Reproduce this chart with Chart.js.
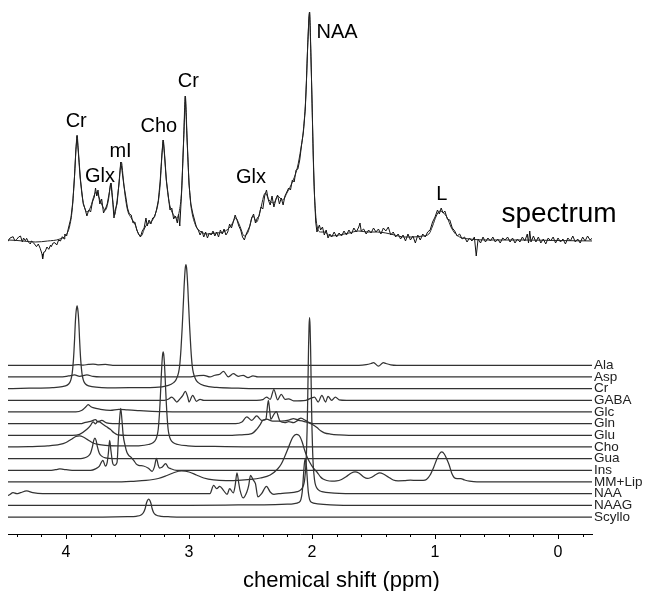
<!DOCTYPE html>
<html>
<head>
<meta charset="utf-8">
<script src="https://cdn.jsdelivr.net/npm/chart.js@4.4.1/dist/chart.umd.min.js"></script>
<style>
  html, body { margin: 0; padding: 0; background: #fff; }
  #wrap { width: 646px; height: 591px; }
</style>
</head>
<body>
<div id="wrap"><canvas id="mrs" width="646" height="591"></canvas></div>
<script>
// x axis: chemical shift in ppm (drawn reversed), tick every 0.2, label on integers
const tickPpm = [4.4, 4.2, 4.0, 3.8, 3.6, 3.4, 3.2, 3.0, 2.8, 2.6, 2.4, 2.2, 2.0, 1.8, 1.6, 1.4, 1.2, 1.0, 0.8, 0.6, 0.4, 0.2, 0.0, -0.2];

// basis spectra, [ppm, intensity above own baseline] (arbitrary units)
const ala = [[4.5,0],[3.95,0],[3.9,0.7],[3.86,0.2],[3.82,0.8],[3.78,1.2],[3.74,0.5],[3.68,0.8],[3.62,0],[1.62,0],[1.56,0.6],[1.52,1.8],[1.50,2.7],[1.46,-0.8],[1.42,2.7],[1.40,1.8],[1.36,0.5],[1.31,0],[-0.3,0]];
const asp = [[4.5,0],[4.05,0],[3.98,1],[3.93,2],[3.89,0.7],[3.83,2],[3.78,0.5],[3.72,0],[3.0,0],[2.94,1],[2.88,1.7],[2.83,0],[2.79,1.7],[2.75,2.7],[2.72,5.5],[2.68,0],[2.64,3.3],[2.60,0.7],[2.56,1.7],[2.52,-0.7],[2.48,1],[2.44,0],[-0.3,0]];
const cr = [[4.5,0],[4.3,0.4],[4.11,1],[4.03,2],[3.99,3.5],[3.97,6],[3.96,9],[3.95,15],[3.94,28],[3.935,38],[3.93,50],[3.925,64],[3.92,74],[3.915,80],[3.91,83],[3.905,80],[3.90,74],[3.895,64],[3.89,50],[3.885,38],[3.88,28],[3.87,15],[3.86,9],[3.85,6],[3.83,3.5],[3.79,2],[3.71,1],[3.6,0.8],[3.4,1],[3.275,1.2],[3.175,3],[3.125,6],[3.105,9],[3.085,16],[3.075,24],[3.065,40],[3.055,62],[3.05,75],[3.045,88],[3.04,102],[3.035,113],[3.03,121],[3.025,124],[3.02,121],[3.015,113],[3.01,102],[3.005,88],[3.0,75],[2.995,62],[2.985,40],[2.975,24],[2.965,16],[2.945,9],[2.925,6],[2.875,3],[2.775,1.2],[2.6,0.5],[2.4,0],[-0.3,0]];
const gaba = [[4.5,0],[3.2,0],[3.17,1],[3.14,3.3],[3.12,1],[3.10,-1.7],[3.07,2],[3.05,5],[3.03,9],[3.01,3],[3.0,-1.7],[2.97,5],[2.94,-1],[2.91,1],[2.88,0],[2.45,0],[2.40,0.7],[2.37,3.3],[2.34,1],[2.31,10.7],[2.28,0.5],[2.25,6],[2.22,1],[2.19,1.5],[2.15,-0.5],[2.05,0],[1.98,3.3],[1.95,-1.7],[1.92,5],[1.89,-1.7],[1.87,4],[1.84,0],[1.81,3.3],[1.78,0.5],[1.72,0],[-0.3,0]];
const glc = [[4.5,0],[3.92,0],[3.87,1.7],[3.84,5],[3.82,7.3],[3.80,5.5],[3.78,4.3],[3.72,2.7],[3.64,1.7],[3.57,2.7],[3.5,2],[3.4,1.3],[3.3,0.7],[3.2,0.3],[2.9,0],[-0.3,0]];
const gln = [[4.5,0],[3.88,0],[3.85,1],[3.80,2.3],[3.76,4],[3.74,1.7],[3.71,3.3],[3.67,0.7],[3.62,0],[2.62,0],[2.57,1.7],[2.53,6.7],[2.49,3.3],[2.45,7.7],[2.41,3.3],[2.37,4.5],[2.32,2.5],[2.25,2.5],[2.19,3.5],[2.15,5],[2.12,4],[2.09,5.5],[2.05,3],[2.02,1],[1.99,0],[-0.3,0]];
const glu = [[4.5,0],[3.95,0],[3.89,1],[3.83,6],[3.80,10],[3.78,13.5],[3.76,11.5],[3.74,14.3],[3.70,11],[3.67,8.5],[3.64,6],[3.61,2.5],[3.58,0.5],[3.5,0],[2.65,0],[2.57,0.5],[2.49,1.7],[2.45,6],[2.42,11],[2.40,15],[2.375,16],[2.365,26],[2.355,35],[2.345,26],[2.335,16],[2.31,21],[2.29,23.7],[2.27,17],[2.26,14],[2.22,12.7],[2.19,13.7],[2.15,12.7],[2.11,15],[2.07,14],[2.03,12.7],[2.0,11],[1.96,7.7],[1.93,4.5],[1.90,2.5],[1.85,1.2],[1.78,0.4],[1.7,0],[-0.3,0]];
const cho = [[4.5,0],[4.3,0.3],[4.15,1],[4.05,2.5],[4.0,4.5],[3.96,7.5],[3.92,10.5],[3.89,11],[3.86,10],[3.82,7],[3.78,4],[3.74,2.5],[3.68,1.5],[3.55,1],[3.45,1.1],[3.41,1.2],[3.33,2.5],[3.29,4.5],[3.27,7.5],[3.26,11],[3.25,18],[3.24,34],[3.235,45],[3.23,58],[3.225,72],[3.22,84],[3.215,92],[3.21,95],[3.205,92],[3.20,84],[3.195,72],[3.19,58],[3.185,45],[3.18,34],[3.17,18],[3.16,11],[3.15,7.5],[3.13,4.5],[3.09,2.5],[3.01,1.2],[2.8,0.5],[2.5,0],[-0.3,0]];
const gua = [[4.5,0],[3.88,0],[3.85,0.7],[3.82,2.5],[3.80,5.7],[3.785,12],[3.775,18],[3.765,20.5],[3.755,18],[3.745,12],[3.73,5.7],[3.71,2.5],[3.68,0.7],[3.62,0],[-0.3,0]];
const ins = [[4.5,0],[4.12,0],[4.07,1],[4.05,1.5],[4.02,1],[3.95,0],[3.80,0],[3.76,1.5],[3.73,4],[3.70,10],[3.68,4.3],[3.665,8],[3.655,18],[3.645,30],[3.635,20],[3.62,7],[3.607,5],[3.585,8],[3.575,30],[3.565,50],[3.555,62],[3.545,50],[3.535,35],[3.52,25],[3.505,18],[3.49,15],[3.47,13],[3.45,10],[3.43,6.5],[3.41,5],[3.37,4.3],[3.33,2],[3.30,-1],[3.28,4],[3.265,12],[3.25,5],[3.24,2.3],[3.22,3],[3.19,6.7],[3.17,3],[3.15,1.7],[3.1,0],[-0.3,0]];
const mmLip = [[4.5,0],[3.6,0],[3.45,0.7],[3.35,1.5],[3.25,3.5],[3.18,6.5],[3.12,9.5],[3.06,11],[3.0,10],[2.94,7],[2.88,4],[2.8,2],[2.7,1.3],[2.6,1.5],[2.5,2.5],[2.42,4],[2.34,7],[2.28,13],[2.25,18],[2.22,26],[2.19,35],[2.16,44],[2.14,47],[2.125,47.7],[2.11,47],[2.10,45.7],[2.08,40],[2.06,31.7],[2.04,25],[2.02,20],[1.99,14],[1.96,10],[1.93,5],[1.91,3],[1.88,1.5],[1.84,0.8],[1.80,1],[1.76,2.5],[1.72,5.5],[1.68,9],[1.65,10],[1.62,9],[1.58,5],[1.55,3.5],[1.52,4.5],[1.48,7.5],[1.45,9],[1.42,8],[1.38,5],[1.34,2],[1.30,1.2],[1.25,1.3],[1.20,1.8],[1.15,1.5],[1.10,1.6],[1.07,2.5],[1.04,7],[1.01,15],[0.985,23],[0.965,28],[0.945,30],[0.925,28],[0.905,23],[0.885,17],[0.865,9],[0.845,4.5],[0.82,3.3],[0.79,3.3],[0.76,2],[0.72,0.8],[0.66,0],[-0.3,0]];
const naa = [[4.5,-1.5],[4.47,-1.7],[4.43,1],[4.40,0],[4.37,1],[4.32,2.7],[4.27,1],[4.19,0],[2.83,0],[2.80,8.3],[2.775,5],[2.75,7.3],[2.72,3.3],[2.69,-0.7],[2.67,5],[2.64,0.7],[2.625,8],[2.61,20.7],[2.595,10],[2.585,3.3],[2.56,-4.3],[2.53,1.7],[2.515,8],[2.50,18.3],[2.48,14],[2.46,10],[2.44,-3.3],[2.41,0],[2.37,7.3],[2.34,1.7],[2.31,-0.7],[2.27,0],[2.22,0.6],[2.12,2],[2.09,4],[2.07,8],[2.06,14],[2.05,28],[2.045,42],[2.04,64],[2.036,88],[2.032,118],[2.028,148],[2.024,168],[2.02,176],[2.016,168],[2.012,148],[2.008,118],[2.004,88],[2.0,64],[1.995,42],[1.99,28],[1.98,14],[1.97,8],[1.95,4],[1.92,2],[1.82,0.6],[1.6,0],[-0.3,0]];
const naag = [[4.5,0],[3.0,0],[2.6,0.4],[2.3,0.8],[2.2,1.2],[2.155,1.5],[2.105,3],[2.09,6],[2.08,13],[2.075,20],[2.07,29],[2.065,38],[2.06,44],[2.055,47],[2.05,44],[2.045,38],[2.04,29],[2.035,20],[2.03,13],[2.02,6],[2.005,3],[1.955,1.5],[1.85,0.5],[1.6,0],[-0.3,0]];
const scyllo = [[4.5,0],[3.7,0],[3.5,0.3],[3.43,0.7],[3.39,2],[3.37,4.5],[3.355,9],[3.348,13],[3.338,16.5],[3.328,18],[3.318,16.5],[3.308,13],[3.301,9],[3.288,4.5],[3.268,2],[3.228,0.7],[3.15,0.2],[3.05,0],[-0.3,0]];

const traceNames = ['Ala', 'Asp', 'Cr', 'GABA', 'Glc', 'Gln', 'Glu', 'Cho', 'Gua', 'Ins', 'MM+Lip', 'NAA', 'NAAG', 'Scyllo'];
const traceValues = [ala, asp, cr, gaba, glc, gln, glu, cho, gua, ins, mmLip, naa, naag, scyllo];

// measured spectrum (noisy) and its fit, [ppm, intensity above spectrum baseline]
const specFit = [[4.5,0],[4.47,0],[4.35,-1],[4.25,-2],[4.15,-1],[4.05,1],[4.0,5],[3.97,14],[3.95,30],[3.935,55],[3.92,88],[3.91,105],[3.90,90],[3.885,65],[3.87,45],[3.85,33],[3.83,28],[3.80,33],[3.77,45],[3.755,48],[3.73,42],[3.70,33],[3.68,30],[3.655,40],[3.635,57],[3.62,40],[3.605,25],[3.59,35],[3.57,55],[3.55,78],[3.535,62],[3.52,45],[3.50,30],[3.47,22],[3.44,16],[3.41,6],[3.39,4],[3.36,12],[3.34,16],[3.31,18],[3.28,24],[3.25,38],[3.235,55],[3.22,85],[3.21,100],[3.20,88],[3.185,62],[3.17,44],[3.15,32],[3.12,24],[3.10,22],[3.08,28],[3.06,50],[3.045,95],[3.03,144],[3.015,100],[3.0,58],[2.985,35],[2.97,24],[2.94,13],[2.90,8],[2.85,6],[2.78,7],[2.72,8],[2.66,14],[2.62,22],[2.59,15],[2.55,4],[2.52,8],[2.48,24],[2.45,18],[2.42,30],[2.38,47],[2.35,40],[2.31,37],[2.28,44],[2.24,40],[2.20,48],[2.16,58],[2.12,72],[2.09,92],[2.07,110],[2.05,145],[2.035,195],[2.02,228],[2.008,180],[1.995,110],[1.985,60],[1.97,25],[1.955,12],[1.93,8],[1.90,8],[1.85,4],[1.78,5],[1.70,7],[1.62,9],[1.55,8],[1.47,8],[1.40,7],[1.33,5],[1.25,3],[1.18,3],[1.10,4],[1.05,6],[1.02,14],[0.99,24],[0.96,29],[0.93,27],[0.90,22],[0.87,13],[0.84,7],[0.80,3],[0.72,1],[0.55,0],[0.3,0],[0.0,-0.5],[-0.3,-1]];
const specData = [[4.475,-1.7],[4.455,2],[4.43,3.3],[4.415,-1],[4.40,0.7],[4.385,3],[4.37,4],[4.355,-2],[4.345,2],[4.33,-0.7],[4.32,1.7],[4.305,-2],[4.29,-4],[4.28,-1],[4.265,-2.7],[4.25,-5],[4.24,-6.7],[4.225,-4],[4.21,-8.3],[4.195,-14],[4.19,-19],[4.18,-12],[4.17,-11.7],[4.155,-7],[4.14,-9.3],[4.125,-5],[4.12,-6.7],[4.105,-3],[4.09,-2.7],[4.075,-5],[4.06,0],[4.045,-1],[4.03,3.3],[4.015,1],[4.01,6],[3.995,4],[3.98,12],
  [3.96,22],[3.945,38],[3.93,65],[3.92,90],[3.91,104],[3.90,88],[3.885,62],[3.87,47],[3.86,36],[3.845,31],[3.83,24],[3.815,30],[3.80,28],[3.785,38],[3.77,43],[3.76,52],[3.75,44],[3.74,50],[3.725,36],[3.71,41],[3.695,27],[3.68,31],[3.665,36],[3.65,46],[3.635,57],[3.62,38],[3.61,22],[3.60,30],[3.585,36],[3.57,56],[3.555,78],[3.545,70],[3.53,55],[3.515,44],[3.50,32],[3.485,26],[3.47,25],[3.455,17],[3.44,18],[3.425,10],[3.41,6],[3.395,3],[3.38,9],[3.365,12],[3.35,22],[3.34,14],[3.325,20],[3.31,16],[3.295,22],[3.28,23],[3.265,30],[3.25,39],[3.235,58],[3.22,86],[3.21,100],[3.20,86],[3.185,60],[3.17,46],[3.155,30],[3.14,32],[3.125,21],[3.11,24],[3.095,17],[3.085,26],[3.075,14],[3.06,48],[3.045,96],[3.03,144],[3.015,98],[3.0,56],[2.985,36],[2.97,27],[2.955,20],[2.94,13],[2.925,10],[2.91,5],[2.895,9],[2.88,3],[2.865,8],[2.85,2],[2.835,7],[2.82,5],[2.805,9],[2.79,4],[2.775,8],[2.76,3],[2.745,10],[2.73,6],[2.715,11],[2.70,5],[2.685,8],[2.67,16],[2.655,12],[2.64,18],[2.625,25],[2.61,20],[2.595,14],[2.58,10],[2.565,3],[2.55,0],[2.535,6],[2.52,10],[2.505,14],[2.49,22],[2.475,26],[2.46,17],[2.445,22],[2.43,24],[2.415,33],[2.40,31],[2.385,44],[2.37,50],[2.355,40],[2.34,35],[2.325,44],[2.31,33],[2.295,40],[2.28,45],[2.265,36],[2.25,42],[2.235,35],[2.22,44],[2.205,48],[2.19,52],[2.175,50],[2.16,60],[2.145,58],[2.13,70],[2.115,71],[2.10,80],[2.085,95],[2.07,108],[2.055,130],[2.045,160],[2.035,195],[2.025,222],[2.02,228],[2.01,190],[2.0,140],[1.99,85],[1.98,45],[1.97,18],[1.96,8],[1.95,12],[1.94,15],[1.93,10],[1.915,13],[1.90,5],[1.885,10],[1.87,2],[1.855,6],[1.84,3],
  [1.82,8],[1.80,3],[1.78,7],[1.76,4],[1.74,9],[1.72,5],[1.70,10],[1.68,6],[1.66,12],[1.64,8],[1.62,13],[1.61,17],[1.60,9],[1.58,11],[1.56,6],[1.54,10],[1.52,7],[1.50,12],[1.48,8],[1.46,11],[1.44,6],[1.42,12],[1.40,9],[1.38,13],[1.36,5],[1.34,8],[1.32,3],[1.30,6],[1.28,1],[1.26,5],[1.24,-1],[1.22,6],[1.20,0],[1.18,4],[1.16,-3],[1.14,5],[1.12,0],[1.10,6],[1.08,3],[1.06,8],[1.04,10],[1.02,18],[1.00,23],[0.98,30],[0.965,26],[0.95,32],[0.935,27],[0.92,29],[0.90,21],[0.88,20],[0.86,12],[0.84,9],[0.82,4],[0.80,6],[0.78,1],[0.76,3],[0.74,-2],[0.72,2],[0.70,-1],[0.68,3],[0.665,-16],[0.65,1],[0.63,-3],[0.61,3],[0.59,-2],[0.57,2],[0.55,-1],[0.53,3],[0.51,-2],[0.49,1],[0.47,-3],[0.45,2],[0.43,0],[0.41,3],[0.39,-2],[0.37,2],[0.35,-3],[0.33,1],[0.31,-2],[0.29,3],[0.27,-1],[0.25,6],[0.24,-3],[0.23,9],[0.22,-2],[0.20,4],[0.18,-2],[0.16,3],[0.14,-3],[0.12,1],[0.10,-4],[0.08,2],[0.06,-1],[0.04,3],[0.02,-3],[0.00,2],[-0.02,-2],[-0.04,1],[-0.06,-4],[-0.08,2],[-0.10,-1],[-0.12,4],[-0.14,-2],[-0.16,1],[-0.18,-3],[-0.20,3],[-0.22,-1],[-0.24,4],[-0.26,0],[-0.28,2]];

// peak annotations on the spectrum: [text, ppm, intensity of text baseline]
const peakLabels = [['Cr', 3.917, 407], ['Glx', 3.724, 352], ['mI', 3.557, 377], ['Cho', 3.245, 402], ['Cr', 3.005, 447], ['Glx', 2.497, 351], ['NAA', 1.797, 496], ['L', 0.945, 334]];

const X_MIN = -0.276, X_MAX = 4.4715;
const SPEC_BASE = 294;      // vertical offset of the spectrum
const ROW_GAP = 11.67;      // offset between stacked basis spectra
const LAST_ROW = 17;        // offset of the lowest basis spectrum

function rowBase(i) {
    return LAST_ROW + (traceNames.length - 1 - i) * ROW_GAP;
}

function shifted(points, base) {
    return points.map(p => ({ x: p[0], y: base + p[1] }));
}

const datasets = traceValues.map((pts, i) => ({
    label: traceNames[i],
    data: shifted(pts, rowBase(i)),
    borderColor: '#333',
    borderWidth: 1.25,
    cubicInterpolationMode: 'monotone'
}));
datasets.push({ label: 'fit', data: shifted(specFit, SPEC_BASE), borderColor: '#222', borderWidth: 1, cubicInterpolationMode: 'monotone' });
datasets.push({ label: 'spectrum', data: shifted(specData, SPEC_BASE), borderColor: '#111', borderWidth: 1, tension: 0 });

const isMajor = v => Math.abs(v - Math.round(v)) < 1e-6;

const annotations = {
    id: 'annotations',
    afterDraw(chart) {
        const { ctx, chartArea, scales } = chart;
        const xs = scales.x, ys = scales.y;
        ctx.save();
        // tick marks, longer on whole ppm
        ctx.strokeStyle = '#000';
        ctx.lineWidth = 1;
        ctx.beginPath();
        xs.ticks.forEach(t => {
            const px = Math.round(xs.getPixelForValue(t.value)) + 0.5;
            ctx.moveTo(px, chartArea.bottom);
            ctx.lineTo(px, chartArea.bottom + (isMajor(t.value) ? 5 : 3));
        });
        ctx.stroke();

        ctx.fillStyle = '#000';
        ctx.textAlign = 'center';
        ctx.textBaseline = 'alphabetic';
        ctx.font = '20px "Liberation Sans", Arial, sans-serif';
        peakLabels.forEach(([txt, ppm, val]) => {
            ctx.fillText(txt, xs.getPixelForValue(ppm), ys.getPixelForValue(val));
        });
        ctx.font = '28px "Liberation Sans", Arial, sans-serif';
        ctx.fillText('spectrum', xs.getPixelForValue(-0.008), ys.getPixelForValue(312));

        ctx.fillStyle = '#222';
        ctx.textAlign = 'left';
        ctx.textBaseline = 'middle';
        ctx.font = '13.5px "Liberation Sans", Arial, sans-serif';
        traceNames.forEach((name, i) => {
            ctx.fillText(name, chartArea.right + 2, ys.getPixelForValue(rowBase(i)));
        });

        ctx.fillStyle = '#000';
        ctx.textBaseline = 'alphabetic';
        ctx.font = '22px "Liberation Sans", Arial, sans-serif';
        ctx.fillText('chemical shift (ppm)', 243, 587);
        ctx.restore();
    }
};

new Chart(document.getElementById('mrs'), {
    type: 'line',
    data: { datasets },
    options: {
        responsive: false,
        animation: false,
        events: [],
        layout: { padding: { left: 8, right: 54, top: 8, bottom: 29 } },
        elements: { point: { radius: 0 } },
        plugins: { legend: { display: false }, tooltip: { enabled: false } },
        scales: {
            x: {
                type: 'linear',
                reverse: true,
                min: X_MIN,
                max: X_MAX,
                afterBuildTicks: scale => { scale.ticks = tickPpm.map(v => ({ value: v })); },
                afterFit: scale => { scale.height = 28; },
                grid: { display: false, drawTicks: false },
                border: { display: true, color: '#000', width: 1 },
                ticks: {
                    autoSkip: false,
                    maxRotation: 0,
                    padding: 9,
                    color: '#000',
                    font: { family: '"Liberation Sans", Arial, sans-serif', size: 16 },
                    callback: v => isMajor(v) ? String(Math.round(v)) : ''
                }
            },
            y: { display: false, min: 0, max: 526 }
        }
    },
    plugins: [annotations]
});
</script>
</body>
</html>
